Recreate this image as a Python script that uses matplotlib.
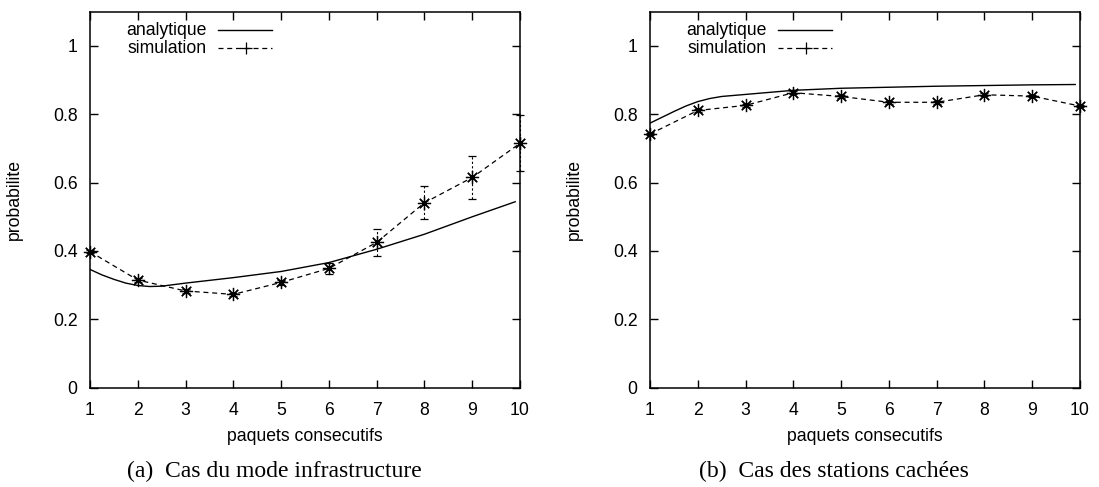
import matplotlib
matplotlib.use("Agg")
import matplotlib.pyplot as plt
from matplotlib.ticker import FormatStrFormatter

# --- data ---
sim_x = [1, 2, 3, 4, 5, 6, 7, 8, 9, 10]

# (a) infrastructure
ana_a_x = [1, 1.25, 1.5, 1.75, 2, 2.25, 2.5, 3, 4, 5, 6, 7, 8, 9, 9.9]
ana_a_y = [0.346, 0.330, 0.317, 0.306, 0.299, 0.296, 0.297, 0.306, 0.322, 0.340,
           0.366, 0.405, 0.449, 0.500, 0.544]
sim_a_y = [0.398, 0.315, 0.283, 0.273, 0.308, 0.349, 0.425, 0.541, 0.615, 0.715]
err_a_lo = [0.005, 0.005, 0.005, 0.005, 0.008, 0.015, 0.040, 0.047, 0.064, 0.081]
err_a_hi = [0.005, 0.005, 0.005, 0.005, 0.008, 0.015, 0.040, 0.049, 0.063, 0.083]

# (b) stations cachees
ana_b_x = [1, 1.25, 1.5, 1.75, 2, 2.25, 2.5, 3, 4, 5, 6, 7, 8, 9, 9.9]
ana_b_y = [0.774, 0.791, 0.808, 0.824, 0.837, 0.846, 0.852, 0.858, 0.870, 0.876,
           0.879, 0.882, 0.884, 0.886, 0.887]
sim_b_y = [0.742, 0.811, 0.826, 0.863, 0.852, 0.835, 0.835, 0.857, 0.853, 0.824]
err_b = [0.004, 0.004, 0.004, 0.004, 0.004, 0.004, 0.004, 0.004, 0.004, 0.004]

captions = ["(a)  Cas du mode infrastructure", "(b)  Cas des stations cachées"]

plt.rcParams['font.family'] = ['Liberation Sans', 'DejaVu Sans']
FS = 12.7

fig = plt.figure(figsize=(10.99, 4.87), dpi=100)
ax_a = fig.add_axes([90 / 1099, 1 - 387.7 / 487, 430 / 1099, 376 / 487])
ax_b = fig.add_axes([650 / 1099, 1 - 387.7 / 487, 430 / 1099, 376 / 487])

panels = [
    (ax_a, ana_a_x, ana_a_y, sim_a_y, [err_a_lo, err_a_hi], 0.250, captions[0]),
    (ax_b, ana_b_x, ana_b_y, sim_b_y, [err_b, err_b], 0.759, captions[1]),
]

for ax, ax_x, ax_y, sy, err, cap_x, cap in panels:
    ax.plot(ax_x, ax_y, color='black', lw=1.0)
    eb = ax.errorbar(sim_x, sy, yerr=err, color='black', lw=0.9, ls=(0, (4, 3)),
                     marker=(8, 2, 0), markersize=9.5, markeredgewidth=0.9,
                     capsize=3, capthick=0.8, elinewidth=0.8)
    for c in eb[2]:
        c.set_linestyle((0, (2, 2)))
    for art in [eb[0]] + list(eb[1]) + list(eb[2]):
        art.set_clip_on(False)

    ax.set_xlim(1, 10)
    ax.set_ylim(0, 1.1)
    ax.set_xticks(sim_x)
    ax.set_yticks([0, 0.2, 0.4, 0.6, 0.8, 1.0])
    ax.yaxis.set_major_formatter(FormatStrFormatter('%g'))
    ax.tick_params(direction='in', length=6, width=1, top=True, right=True,
                   labelsize=FS)
    ax.tick_params(axis='x', pad=10)
    ax.tick_params(axis='y', pad=9)
    for s in ax.spines.values():
        s.set_linewidth(1.1)
    ax.set_xlabel("paquets consecutifs", fontsize=FS, labelpad=7)
    ax.set_ylabel("probabilite", fontsize=FS)
    ax.yaxis.set_label_coords(-0.156, 0.5)

    # gnuplot style key
    ax.text(0.272, 0.951, "analytique", transform=ax.transAxes, ha='right',
            va='center', fontsize=FS)
    ax.text(0.272, 0.903, "simulation", transform=ax.transAxes, ha='right',
            va='center', fontsize=FS)
    ax.plot([0.298, 0.423], [0.951, 0.951], transform=ax.transAxes,
            color='black', lw=1.0)
    ax.plot([0.298, 0.423], [0.903, 0.903], transform=ax.transAxes,
            color='black', lw=0.9, ls=(0, (4, 3)))
    ax.plot([0.362], [0.903], transform=ax.transAxes, color='black',
            marker='+', markersize=9, markeredgewidth=0.9)

    fig.text(cap_x, 1 - 471.7 / 487, cap, ha='center', va='center',
             fontsize=17, family=['Liberation Serif', 'DejaVu Serif'])

fig.savefig("out.png", dpi=100)
